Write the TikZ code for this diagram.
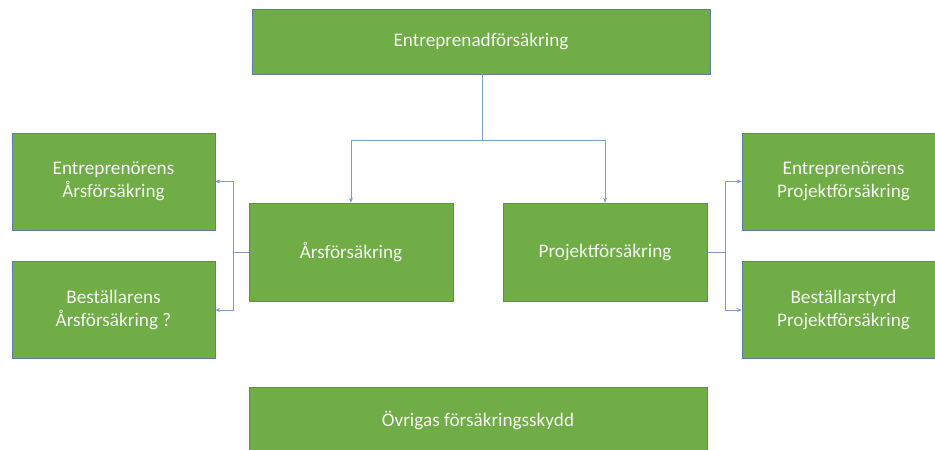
\documentclass[tikz,border=0pt]{standalone}
\usepackage{fontspec}
\setmainfont{Carlito}
\usetikzlibrary{arrows.meta}
\definecolor{boxgreen}{HTML}{70AD47}
\definecolor{boxedge}{HTML}{5B7FA8}
\definecolor{linkblue}{HTML}{4472C4}
\begin{document}
\begin{tikzpicture}[
        x=1pt, y=-1pt,
        % Rutor: grön fyllning, tunn blågrå kant
        box/.style={
            draw=boxedge,
            fill=boxgreen,
            line width=0.6pt,
            inner sep=0pt,
            text=white!92!boxgreen,
            align=center,
            font=\fontsize{19.2}{22.5}\selectfont
        },
        link/.style={
            draw=linkblue!70,
            line width=0.6pt,
            -{Stealth[length=5pt,width=4pt]}
        }
    ]
    \useasboundingbox (0,0) rectangle (935,450);

    \node[box, minimum width=458pt, minimum height=65pt] (top) at (481,41.5) {Entreprenadförsäkring};

    \node[box, minimum width=204pt, minimum height=98pt] (ars) at (351,252) {Årsförsäkring};
    \node[box, minimum width=204pt, minimum height=98pt] (proj) at (605,252) {Projektförsäkring};

    \node[box, minimum width=203pt, minimum height=97pt] (l1) at (113.5,181.5) {Entreprenörens\\Årsförsäkring};
    \node[box, minimum width=203pt, minimum height=97pt] (l2) at (113.5,310) {Beställarens\\Årsförsäkring ?};

    \node[box, minimum width=203pt, minimum height=97pt] (r1) at (843.5,181.5) {Entreprenörens\\Projektförsäkring};
    \node[box, minimum width=203pt, minimum height=97pt] (r2) at (843.5,310) {Beställarstyrd\\Projektförsäkring};

    \node[box, minimum width=458pt, minimum height=66pt] (ovr) at (478,420) {Övrigas försäkringsskydd};

    % förgreningar
    \coordinate (mid) at (482,140);
    \draw[link] (top.south -| mid) -- (mid) -| (ars.north);
    \draw[link] (mid) -| (proj.north);

    \coordinate (lbus) at (233,252);
    \draw[link] (ars.west) -- (lbus) |- (l1.east);
    \draw[link] (lbus) |- (l2.east);

    \coordinate (rbus) at (725,252);
    \draw[link] (proj.east) -- (rbus) |- (r1.west);
    \draw[link] (rbus) |- (r2.west);
\end{tikzpicture}
\end{document}
